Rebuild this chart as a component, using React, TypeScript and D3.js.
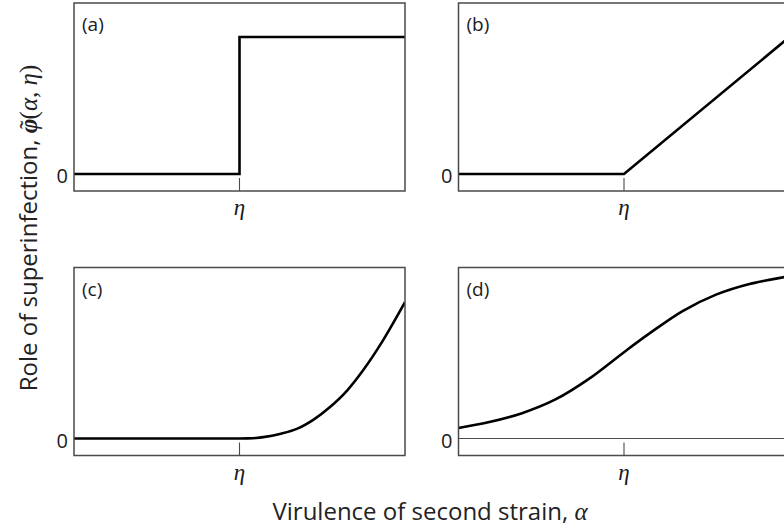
import React from "react";
import * as d3 from "d3";

// ---- data (alpha in units where eta = 1) ----
const panelLabels = ["(a)", "(b)", "(c)", "(d)"];
const zeroLabel = "0";
const etaLabel = "η";
const xTitle = "Virulence of second strain, ";
const xTitleSym = "α";
const yTitle = "Role of superinfection, ";

const alphaA = [0, 1, 1, 2];
const phiA = [0, 0, 1, 1];

const alphaB = [0, 1, 2];
const phiB = [0, 0, 1.0];

const alphaC = [0, 1, 1.05, 1.1, 1.144, 1.25, 1.346, 1.45, 1.547, 1.65, 1.748, 1.869, 2.0];
const phiC = [0, 0, 0.001, 0.004, 0.01, 0.035, 0.07, 0.14, 0.23, 0.35, 0.5, 0.72, 0.995];

const alphaD = [0, 0.18, 0.384, 0.586, 0.788, 1.0, 1.152, 1.354, 1.556, 1.758, 1.97, 2.0];
const phiD = [0.077, 0.118, 0.185, 0.285, 0.435, 0.63, 0.765, 0.93, 1.05, 1.128, 1.178, 1.185];

const etaValue = 1;
const xDomain = [0, 2];
const yDomain = [-0.124, 1.248];

// ---- layout ----
const W = 784;
const H = 532;
const panelW = 331;
const panelH = 188;
const lefts = [74, 458.5, 74, 458.5];
const tops = [3, 3, 267.5, 267.5];

const series = [
  { a: alphaA, p: phiA, curve: d3.curveLinear, zeroLine: false },
  { a: alphaB, p: phiB, curve: d3.curveLinear, zeroLine: false },
  { a: alphaC, p: phiC, curve: d3.curveMonotoneX, zeroLine: false },
  { a: alphaD, p: phiD, curve: d3.curveCatmullRom.alpha(0.5), zeroLine: true },
];

const sansFont = "'Open Sans', 'Noto Sans', sans-serif";
const mathFont = "'Liberation Serif', 'DejaVu Serif', serif";
const frameColor = "#4a4a4a";
const textColor = "#1a1a1a";

function Panel({ i }: { i: number }) {
  const left = lefts[i];
  const top = tops[i];
  const x = d3.scaleLinear().domain(xDomain).range([left, left + panelW]);
  const y = d3.scaleLinear().domain(yDomain).range([top + panelH, top]);
  const s = series[i];
  const pts: [number, number][] = s.a.map((a, k) => [a, s.p[k]]);
  const line = d3
    .line<[number, number]>()
    .x((d) => x(d[0]))
    .y((d) => y(d[1]))
    .curve(s.curve);
  const clipId = `clip-${i}`;
  const zeroY = y(0);
  const etaX = x(etaValue);
  return (
    <g>
      <defs>
        <clipPath id={clipId}>
          <rect x={left} y={top} width={panelW} height={panelH} />
        </clipPath>
      </defs>
      {s.zeroLine && (
        <line x1={left} x2={left + panelW} y1={zeroY} y2={zeroY} stroke={frameColor} strokeWidth={1.2} />
      )}
      <line x1={etaX} x2={etaX} y1={top + panelH} y2={top + panelH - 13} stroke={frameColor} strokeWidth={1.1} />
      <path
        d={line(pts) || ""}
        fill="none"
        stroke="#000"
        strokeWidth={2.6}
        strokeLinejoin="miter"
        clipPath={`url(#${clipId})`}
      />
      <rect x={left} y={top} width={panelW} height={panelH} fill="none" stroke={frameColor} strokeWidth={1.5} />
      <text x={left + 8} y={top + 28} fontFamily={sansFont} fontSize={19} fill={textColor}>
        {panelLabels[i]}
      </text>
      <text x={left - 6} y={zeroY + 9} textAnchor="end" fontFamily={sansFont} fontSize={20} fill={textColor}>
        {zeroLabel}
      </text>
      <text x={etaX} y={top + panelH + 24} textAnchor="middle" fontFamily={mathFont} fontStyle="italic" fontSize={23} fill={textColor}>
        {etaLabel}
      </text>
    </g>
  );
}

export default function App() {
  return (
    <svg
      width={W}
      height={H}
      viewBox={`0 0 ${W} ${H}`}
      style={{ position: "absolute", left: 0, top: 0, background: "#fff" }}
    >
      <rect x={0} y={0} width={W} height={H} fill="#fff" />
      {[0, 1, 2, 3].map((i) => (
        <Panel key={i} i={i} />
      ))}
      <text x={430} y={520} textAnchor="middle" fontFamily={sansFont} fontSize={24} fill="#222">
        {xTitle}
        <tspan fontFamily={mathFont} fontStyle="italic" fontSize={25}>
          {xTitleSym}
        </tspan>
      </text>
      <text
        transform="translate(37,228) rotate(-90)"
        textAnchor="middle"
        fontFamily={sansFont}
        fontSize={24}
        fill="#222"
      >
        {yTitle}
        <tspan fontFamily={mathFont} fontStyle="italic" fontWeight="bold" fontSize={25}>
          {"φ"}
        </tspan>
        <tspan fontFamily={mathFont} fontSize={25} dx={-10}>
          {"˜"}
        </tspan>
        <tspan fontFamily={mathFont} fontSize={25} dx={1}>(</tspan>
        <tspan fontFamily={mathFont} fontStyle="italic" fontSize={25}>α</tspan>
        <tspan fontFamily={mathFont} fontSize={25}>, </tspan>
        <tspan fontFamily={mathFont} fontStyle="italic" fontSize={25}>η</tspan>
        <tspan fontFamily={mathFont} fontSize={25}>)</tspan>
      </text>
    </svg>
  );
}
